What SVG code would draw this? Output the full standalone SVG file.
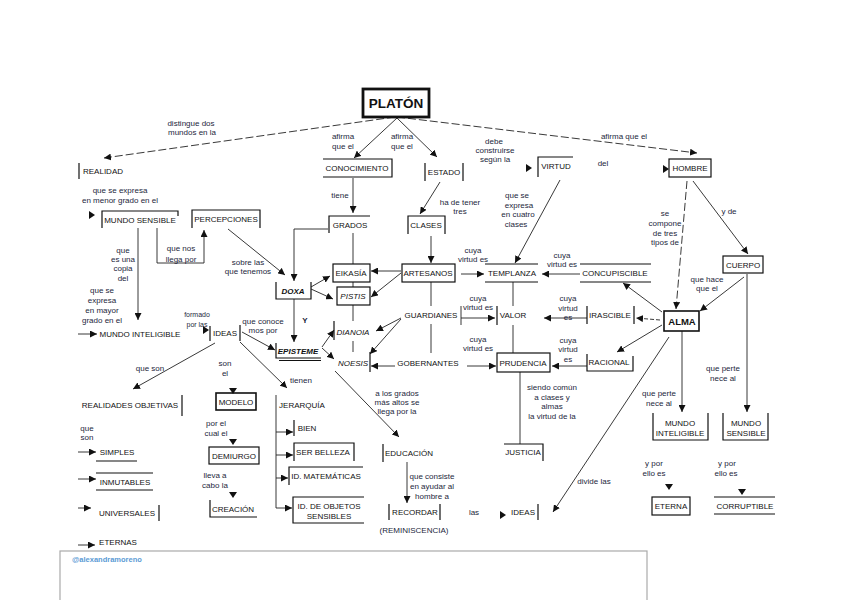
<svg xmlns="http://www.w3.org/2000/svg" width="848" height="600" viewBox="0 0 848 600">
<defs>
<marker id="ar" viewBox="0 0 10 10" refX="10" refY="5" markerWidth="7" markerHeight="7" markerUnits="userSpaceOnUse" orient="auto">
<path d="M0,0 L10,5 L0,10 z" fill="#111"/>
</marker>
</defs>
<style>
text{font-family:"Liberation Sans",Arial,sans-serif}
.n{font-size:8px;fill:#111;text-anchor:middle}
.l{font-size:8px;fill:#1d1f3c;text-anchor:middle}
.s{font-size:7px}
.it{font-style:italic}
.bi{font-style:italic;font-weight:bold}
.b{fill:none;stroke:#111;stroke-width:1.2}
.c{fill:none;stroke:#222;stroke-width:0.9}
.ca{fill:none;stroke:#222;stroke-width:0.9;marker-end:url(#ar)}
.d{stroke-dasharray:8 3}
.ah{fill:#111}
</style>
<rect width="848" height="600" fill="#fff"/>

<g id="connectors">
<path class="ca d" d="M395,117 L104,158"/>
<path class="ca d" d="M397,117 L697,153"/>
<path class="ca" d="M397,118 L354,158"/>
<path class="ca" d="M397,118 L437,157"/>
<path class="ca" d="M353,178 V213"/>
<path class="ca" d="M440,182 L420,214"/>
<path class="ca" d="M560,180 L515,263"/>
<path class="ca" d="M693,181 L748,254"/>
<path class="ca d" d="M687,181 L676,309"/>
<path class="ca" d="M744,277 L700,311"/>
<path class="ca" d="M747,274 V412"/>
<path class="ca" d="M682,331 V412"/>
<path class="ca" d="M662,312 L623,283"/>
<path class="ca" d="M660,320 L636,318" stroke-dasharray="4 2"/>
<path class="ca" d="M662,325 L617,352"/>
<path class="ca" d="M669,337 L553,512"/>
<path class="ca" d="M580,274 H542"/>
<path class="ca" d="M587,318 H544"/>
<path class="ca" d="M587,366 H552"/>
<path class="c" d="M513,282 V306 M513,325 V353"/>
<path class="c" d="M520,372 V444"/>
<path class="ca" d="M431,236 V263"/>
<path class="ca" d="M461,274 H484"/>
<path class="ca" d="M401,271 H371"/>
<path class="ca" d="M401,273 L371,297"/>
<path class="c" d="M431,282 V306 M431,324 V353"/>
<path class="c" d="M461,306 V325"/>
<path class="ca" d="M461,318 H495"/>
<path class="ca" d="M401,318 L376,331"/>
<path class="ca" d="M401,319 L370,354"/>
<path class="ca" d="M395,366 H371"/>
<path class="ca" d="M467,366 H496"/>
<path class="c" d="M353,233 V264 M353,282 V287 M353,305 V321 M353,341 V352"/>
<path class="ca" d="M328,229 H294 V281"/>
<path class="ca" d="M311,287 L330,276"/>
<path class="ca" d="M311,289 L333,299"/>
<path class="ca" d="M294,299 V342"/>
<path class="ca" d="M322,347 L334,330"/>
<path class="ca" d="M322,348 L334,359"/>
<path class="ca" d="M335,371 L399,437"/>
<path class="ca" d="M407,462 V503"/>
<path class="ca" d="M157,228 V263 H204 V230"/>
<path class="ca" d="M138,228 V320"/>
<path class="ca" d="M78,334 H97"/>
<path class="ca" d="M228,229 L285,275"/>
<path class="ca" d="M242,332 L275,350"/>
<path class="ca" d="M215,343 L133,389"/>
<path class="ca" d="M240,342 L287,388"/>
<path class="c" d="M276,395 V508"/>
<path class="ca" d="M276,432 H293"/>
<path class="ca" d="M276,455 H293"/>
<path class="ca" d="M276,478 H288"/>
<path class="ca" d="M276,508 H292"/>
<path class="ca" d="M78,452 H96"/>
<path class="ca" d="M78,479 H96"/>
<path class="ca" d="M78,508 H91"/>
<path class="ca" d="M78,545 H95"/>
<!-- orphan arrowheads -->
<path class="ah" d="M229,388 L237,388 L233,394 z"/>
<path class="ah" d="M229,439 L237,439 L233,445 z"/>
<path class="ah" d="M229,492 L237,492 L233,498 z"/>
<path class="ah" d="M203,326 L209,330 L203,334 z"/>
<path class="ah" d="M89,211 L95,215 L89,219 z"/>
<path class="ah" d="M526,164 L532,168 L526,172 z"/>
<path class="ah" d="M663,165 L669,169 L663,173 z"/>
<path class="ah" d="M500,511 L506,515 L500,519 z"/>
<path class="ah" d="M665,484 L673,484 L669,490 z"/>
<path class="ah" d="M738,489 L746,489 L742,495 z"/>
</g>

<g id="labels">
<text class="l" x="191" y="126">distingue dos</text>
<text class="l" x="192" y="135">mundos en la</text>
<text class="l" x="343" y="139">afirma</text>
<text class="l" x="343" y="149">que el</text>
<text class="l" x="402" y="139">afirma</text>
<text class="l" x="402" y="149">que el</text>
<text class="l" x="494" y="144">debe</text>
<text class="l" x="495" y="153">construirse</text>
<text class="l" x="495" y="162">según la</text>
<text class="l" x="624" y="139">afirma que el</text>
<text class="l" x="603" y="166">del</text>
<text class="l" x="340" y="198">tiene</text>
<text class="l" x="460" y="205">ha de tener</text>
<text class="l" x="460" y="214">tres</text>
<text class="l" x="517" y="198">que se</text>
<text class="l" x="519" y="208">expresa</text>
<text class="l" x="518" y="217">en cuatro</text>
<text class="l" x="516" y="227">clases</text>
<text class="l" x="665" y="216">se</text>
<text class="l" x="665" y="226">compone</text>
<text class="l" x="665" y="236">de tres</text>
<text class="l" x="665" y="245">tipos de</text>
<text class="l" x="729" y="214">y de</text>
<text class="l" x="120" y="193">que se expresa</text>
<text class="l" x="120" y="203">en menor grado en el</text>
<text class="l" x="181" y="251">que nos</text>
<text class="l" x="181" y="262">llega por</text>
<text class="l" x="123" y="253">que</text>
<text class="l" x="123" y="262">es una</text>
<text class="l" x="123" y="271">copia</text>
<text class="l" x="123" y="281" font-size="9">del</text>
<text class="l" x="102" y="293">que se</text>
<text class="l" x="102" y="303">expresa</text>
<text class="l" x="102" y="313" font-size="9">en mayor</text>
<text class="l" x="102" y="323" font-size="9">grado en el</text>
<text class="l" x="248" y="265">sobre las</text>
<text class="l" x="248" y="274">que tenemos</text>
<text class="l s" x="197" y="317">formado</text>
<text class="l s" x="197" y="327">por las</text>
<text class="l" x="263" y="324">que conoce</text>
<text class="l" x="263" y="333">mos por</text>
<text class="l" x="305" y="323" font-size="9" font-weight="bold">Y</text>
<text class="l" x="150" y="371">que son</text>
<text class="l" x="225" y="366">son</text>
<text class="l" x="225" y="376">el</text>
<text class="l" x="301" y="383">tienen</text>
<text class="l" x="87" y="431">que</text>
<text class="l" x="87" y="440">son</text>
<text class="l" x="216" y="426">por el</text>
<text class="l" x="216" y="436">cual el</text>
<text class="l" x="215" y="478">lleva a</text>
<text class="l" x="215" y="488">cabo la</text>
<text class="l" x="473" y="253">cuya</text>
<text class="l" x="473" y="262">virtud es</text>
<text class="l" x="562" y="258">cuya</text>
<text class="l" x="562" y="267">virtud es</text>
<text class="l" x="478" y="301">cuya</text>
<text class="l" x="478" y="310">virtud es</text>
<text class="l" x="568" y="301">cuya</text>
<text class="l" x="568" y="311">virtud</text>
<text class="l" x="568" y="320">es</text>
<text class="l" x="478" y="342">cuya</text>
<text class="l" x="478" y="351">virtud es</text>
<text class="l" x="568" y="343">cuya</text>
<text class="l" x="568" y="352">virtud</text>
<text class="l" x="568" y="362">es</text>
<text class="l" x="707" y="282">que hace</text>
<text class="l" x="707" y="291">que el</text>
<text class="l" x="723" y="371">que perte</text>
<text class="l" x="723" y="381">nece al</text>
<text class="l" x="659" y="396">que perte</text>
<text class="l" x="659" y="406">nece al</text>
<text class="l" x="552" y="390">siendo común</text>
<text class="l" x="552" y="400">a clases y</text>
<text class="l" x="552" y="409">almas</text>
<text class="l" x="552" y="419">la virtud de la</text>
<text class="l" x="397" y="396">a los grados</text>
<text class="l" x="397" y="405">más altos se</text>
<text class="l" x="397" y="414">llega por la</text>
<text class="l" x="432" y="479">que consiste</text>
<text class="l" x="432" y="489">en ayudar al</text>
<text class="l" x="432" y="499">hombre a</text>
<text class="l" x="474" y="515">las</text>
<text class="l" x="594" y="484">divide las</text>
<text class="l" x="654" y="466">y por</text>
<text class="l" x="654" y="476">ello es</text>
<text class="l" x="727" y="466">y por</text>
<text class="l" x="726" y="476">ello es</text>
<text class="l" x="414" y="533">(REMINISCENCIA)</text>
</g>

<g id="platon"><rect x="363" y="89" width="66" height="28" fill="none" stroke="#111" stroke-width="2.8"/><text x="396" y="108" font-size="13.5" font-weight="bold" text-anchor="middle" fill="#111">PLATÓN</text></g>
<g id="realidad"><path class="b" d="M79,163 V179"/><text class="n" x="103" y="174">REALIDAD</text></g>
<g id="conocimiento"><path class="b" d="M323,159 H392 V177 H323"/><text class="n" x="357" y="171">CONOCIMIENTO</text></g>
<g id="estado"><path class="b" d="M425,163 V181 M463,163 V181"/><text class="n" x="444" y="175">ESTADO</text></g>
<g id="virtud"><path class="b" d="M538,177 V157 H573"/><text class="n" x="556" y="169">VIRTUD</text></g>
<g id="hombre"><rect class="b" x="669" y="159" width="42" height="18"/><text class="n" x="690" y="171">HOMBRE</text></g>
<g id="mundo-sensible"><path class="b" d="M102,228 V211 H178 V216"/><text class="n" x="140" y="223">MUNDO SENSIBLE</text></g>
<g id="percepciones"><path class="b" d="M192,228 V210 H260 V228"/><text class="n" x="226" y="222">PERCEPCIONES</text></g>
<g id="grados"><path class="b" d="M329,233 V216 H370"/><text class="n" x="350" y="228">GRADOS</text></g>
<g id="clases"><path class="b" d="M408,234 V216 H445 V234"/><text class="n" x="426" y="228">CLASES</text></g>
<g id="artesanos"><rect class="b" x="402" y="264" width="53" height="18"/><text class="n" x="428" y="276">ARTESANOS</text></g>
<g id="eikasia"><rect class="b" x="333" y="264" width="37" height="18"/><text class="n" x="351" y="276">EIKASÍA</text></g>
<g id="pistis"><rect class="b" x="337" y="287" width="33" height="18"/><text class="n it" x="353" y="299">PISTIS</text></g>
<g id="doxa"><path class="b" d="M276,282 V299 H311 V282"/><text class="n bi" x="293" y="294">DOXA</text></g>
<g id="episteme"><path class="b" d="M276,343 V358 H321"/><path class="b" d="M279,360.5 H321" stroke-width="0.8"/><text class="n bi" x="298" y="354">EPISTEME</text></g>
<g id="dianoia"><path class="b" d="M334,321 V340"/><text class="n it" x="353" y="335">DIANOIA</text></g>
<g id="noesis"><path class="b" d="M370,352 V372"/><text class="n it" x="353" y="366">NOESIS</text></g>
<g id="guardianes"><text class="n" x="431" y="318">GUARDIANES</text></g>
<g id="gobernantes"><text class="n" x="428" y="366">GOBERNANTES</text></g>
<g id="templanza"><path class="b" d="M485,264 H538 M485,282 H538"/><text class="n" x="512" y="276">TEMPLANZA</text></g>
<g id="valor"><path class="b" d="M497,306 V325"/><text class="n" x="513" y="318">VALOR</text></g>
<g id="prudencia"><rect class="b" x="497" y="353" width="53" height="19"/><text class="n" x="523" y="366">PRUDENCIA</text></g>
<g id="justicia"><path class="b" d="M504,444 H543 V461"/><text class="n" x="523" y="455">JUSTICIA</text></g>
<g id="concupiscible"><path class="b" d="M580,264 H651 M580,282 H651"/><text class="n" x="615" y="276">CONCUPISCIBLE</text></g>
<g id="irascible"><path class="b" d="M587,306 V324 M634,306 V324"/><text class="n" x="610" y="318">IRASCIBLE</text></g>
<g id="racional"><path class="b" d="M587,354 V371 H633 V356"/><text class="n" x="609" y="365">RACIONAL</text></g>
<g id="cuerpo"><rect class="b" x="723" y="256" width="40" height="17"/><text class="n" x="743" y="268">CUERPO</text></g>
<g id="alma"><rect x="664" y="311" width="35" height="20" fill="none" stroke="#111" stroke-width="1.6"/><text x="682" y="325" font-size="9.5" font-weight="bold" text-anchor="middle" fill="#111">ALMA</text></g>
<g id="mundo-inteligible-alma"><path class="b" d="M653,413 V440 H708 V413"/><text class="n" x="680" y="426">MUNDO</text><text class="n" x="680" y="436" font-size="7.5">INTELIGIBLE</text></g>
<g id="mundo-sensible-cuerpo"><path class="b" d="M723,413 V440 H768 V413"/><text class="n" x="746" y="426">MUNDO</text><text class="n" x="746" y="436" font-size="7.5">SENSIBLE</text></g>
<g id="eterna"><rect class="b" x="652" y="497" width="38" height="18"/><text class="n" x="671" y="509">ETERNA</text></g>
<g id="corruptible"><path class="b" d="M714,497 H775 M714,514 H775"/><text class="n" x="745" y="509">CORRUPTIBLE</text></g>
<g id="educacion"><path class="b" d="M383,444 V462"/><text class="n" x="409" y="456">EDUCACIÓN</text></g>
<g id="recordar"><path class="b" d="M389,504 V520 M440,504 V520"/><text class="n" x="415" y="515">RECORDAR</text></g>
<g id="ideas-alma"><path class="b" d="M538,504 V520"/><text class="n" x="523" y="515">IDEAS</text></g>
<g id="ideas"><path class="b" d="M210,326 V341 M240,325 V341"/><text class="n" x="225" y="336">IDEAS</text></g>
<g id="mundo-inteligible"><text class="n" x="140" y="337">MUNDO INTELIGIBLE</text></g>
<g id="realidades-objetivas"><path class="b" d="M182,395 V416"/><text class="n" x="130" y="408">REALIDADES OBJETIVAS</text></g>
<g id="simples"><path class="b" d="M96,461 H137"/><text class="n" x="117" y="455">SIMPLES</text></g>
<g id="inmutables"><path class="b" d="M96,473 H153 M96,490 H153"/><text class="n" x="125" y="485">INMUTABLES</text></g>
<g id="universales"><path class="b" d="M159,505 V521"/><text class="n" x="127" y="516">UNIVERSALES</text></g>
<g id="eternas"><text class="n" x="118" y="545">ETERNAS</text></g>
<g id="modelo"><rect x="216" y="393" width="40" height="17" fill="none" stroke="#111" stroke-width="1.6"/><text class="n" x="236" y="405">MODELO</text></g>
<g id="demiurgo"><rect class="b" x="209" y="447" width="50" height="17"/><text class="n" x="234" y="459">DEMIURGO</text></g>
<g id="creacion"><path class="b" d="M210,500 V517 H257"/><text class="n" x="233" y="512">CREACIÓN</text></g>
<g id="jerarquia"><text class="n" x="302" y="408">JERARQUÍA</text></g>
<g id="bien"><path class="b" d="M294,420 V436"/><text class="n" x="307" y="431">BIEN</text></g>
<g id="ser-belleza"><path class="b" d="M294,461 V443 H354 V461"/><text class="n" x="323" y="455">SER BELLEZA</text></g>
<g id="id-matematicas"><path class="b" d="M289,485 V467 H363"/><text class="n" x="326" y="479">ID. MATEMÁTICAS</text></g>
<g id="id-objetos"><path class="b" d="M364,497 H293 V523 H364"/><text class="n" x="329" y="509">ID. DE OBJETOS</text><text class="n" x="329" y="519">SENSIBLES</text></g>

<g id="footer"><rect x="60" y="551" width="587" height="60" fill="#fff" stroke="#aaa" stroke-width="1.2"/><text x="72" y="562" font-size="7.5" fill="#5b9bd5" font-weight="bold">@alexandramoreno</text></g>
</svg>
